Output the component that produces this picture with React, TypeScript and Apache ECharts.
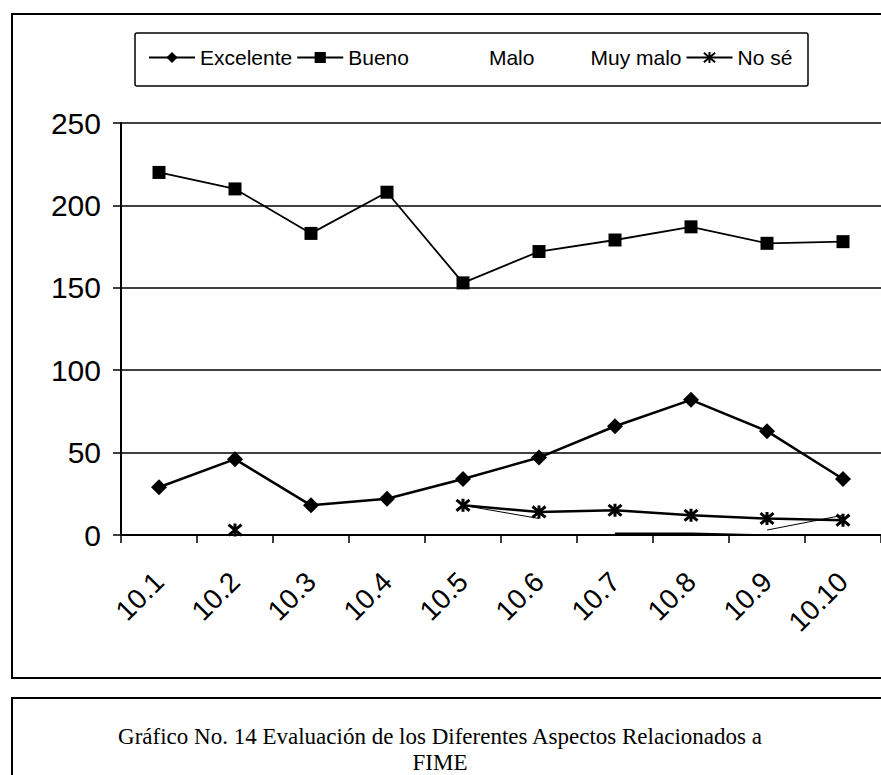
import React, { useEffect, useRef } from "react";
import * as echarts from "echarts";

const categories = ["10.1", "10.2", "10.3", "10.4", "10.5", "10.6", "10.7", "10.8", "10.9", "10.10"];
const excelente = [29, 46, 18, 22, 34, 47, 66, 82, 63, 34];
const bueno = [220, 210, 183, 208, 153, 172, 179, 187, 177, 178];
const malo = [null, null, null, null, 18, 10, null, null, 3, 12];
const muyMalo = [null, null, null, null, null, null, 1, 1, 0, null];
const noSe = [null, 3, null, null, 18, 14, 15, 12, 10, 9];
const seriesNames = ["Excelente", "Bueno", "Malo", "Muy malo", "No sé"];
const captionLine1 = "Gráfico No. 14 Evaluación de los Diferentes Aspectos Relacionados a";
const captionLine2 = "FIME";

const SANS = "'Liberation Sans', Arial, sans-serif";
const SERIF = "'Liberation Serif', 'Times New Roman', serif";
const ASTERISK = "path://M0,0L10,10M10,0L0,10M5,-1L5,11";

export default function App() {
  const ref = useRef<HTMLDivElement>(null);
  useEffect(() => {
    if (!ref.current) return;
    const chart = echarts.init(ref.current, undefined, { renderer: "svg" });
    chart.setOption({
      animation: false,
      backgroundColor: "#ffffff",
      textStyle: { fontFamily: SANS, color: "#000" },
      legend: {
        left: 143,
        top: 42,
        itemWidth: 46,
        itemHeight: 14,
        itemGap: 4,
        textStyle: { fontFamily: SANS, fontSize: 21, color: "#000" },
        data: [
          { name: seriesNames[0] },
          { name: seriesNames[1] },
          {
            name: seriesNames[2],
            itemStyle: { opacity: 0 },
            lineStyle: { opacity: 0 },
            textStyle: { padding: [0, 0, 0, 24] },
          },
          { name: seriesNames[3], itemStyle: { opacity: 0 }, lineStyle: { opacity: 0 } },
          { name: seriesNames[4] },
        ],
      },
      grid: { left: 121, top: 123, width: 772, height: 412 },
      xAxis: {
        type: "category",
        data: categories,
        boundaryGap: true,
        axisLine: { lineStyle: { color: "#000", width: 2 } },
        axisTick: { show: true, length: 8, lineStyle: { color: "#000", width: 1.5 } },
        axisLabel: { rotate: 45, fontSize: 28, color: "#000", margin: 42, fontFamily: SANS },
        splitLine: { show: false },
      },
      yAxis: {
        type: "value",
        min: 0,
        max: 250,
        interval: 50,
        axisLine: { show: true, lineStyle: { color: "#000", width: 2 } },
        axisTick: { show: true, length: 8, lineStyle: { color: "#000", width: 1.5 } },
        axisLabel: { fontSize: 30, color: "#000", margin: 20, fontFamily: SANS },
        splitLine: { lineStyle: { color: "#000", width: 1.5 } },
      },
      series: [
        {
          name: seriesNames[0],
          type: "line",
          data: excelente,
          symbol: "diamond",
          symbolSize: 16,
          lineStyle: { color: "#000", width: 2.5 },
          itemStyle: { color: "#000" },
        },
        {
          name: seriesNames[1],
          type: "line",
          data: bueno,
          symbol: "rect",
          symbolSize: 13,
          lineStyle: { color: "#000", width: 1.8 },
          itemStyle: { color: "#000" },
        },
        {
          name: seriesNames[2],
          type: "line",
          data: malo,
          symbol: "none",
          connectNulls: false,
          lineStyle: { color: "#000", width: 1 },
          itemStyle: { color: "#000" },
        },
        {
          name: seriesNames[3],
          type: "line",
          data: muyMalo,
          symbol: "none",
          connectNulls: false,
          lineStyle: { color: "#000", width: 1.5 },
          itemStyle: { color: "#000" },
        },
        {
          name: seriesNames[4],
          type: "line",
          data: noSe,
          symbol: ASTERISK,
          symbolSize: 13,
          showSymbol: true,
          connectNulls: false,
          lineStyle: { color: "#000", width: 2.5 },
          itemStyle: { color: "#000", borderColor: "#000", borderWidth: 3 },
        },
      ],
      graphic: [
        {
          type: "rect",
          shape: { x: 12, y: 14, width: 900, height: 664 },
          style: { fill: "none", stroke: "#000", lineWidth: 2 },
          z: -1,
        },
        {
          type: "rect",
          shape: { x: 135, y: 33, width: 673, height: 53, r: 2 },
          style: { fill: "none", stroke: "#000", lineWidth: 1.5 },
        },
        {
          type: "rect",
          shape: { x: 12, y: 698, width: 900, height: 200 },
          style: { fill: "none", stroke: "#000", lineWidth: 2 },
        },
        {
          type: "text",
          x: 440,
          y: 736,
          style: {
            text: captionLine1,
            font: `23px ${SERIF}`,
            fill: "#000",
            textAlign: "center",
            textVerticalAlign: "middle",
          },
        },
        {
          type: "text",
          x: 440,
          y: 762,
          style: {
            text: captionLine2,
            font: `23px ${SERIF}`,
            fill: "#000",
            textAlign: "center",
            textVerticalAlign: "middle",
          },
        },
      ],
    });
    return () => chart.dispose();
  }, []);
  return (
    <div
      ref={ref}
      style={{ position: "absolute", left: 0, top: 0, width: 881, height: 775, overflow: "hidden" }}
    />
  );
}
